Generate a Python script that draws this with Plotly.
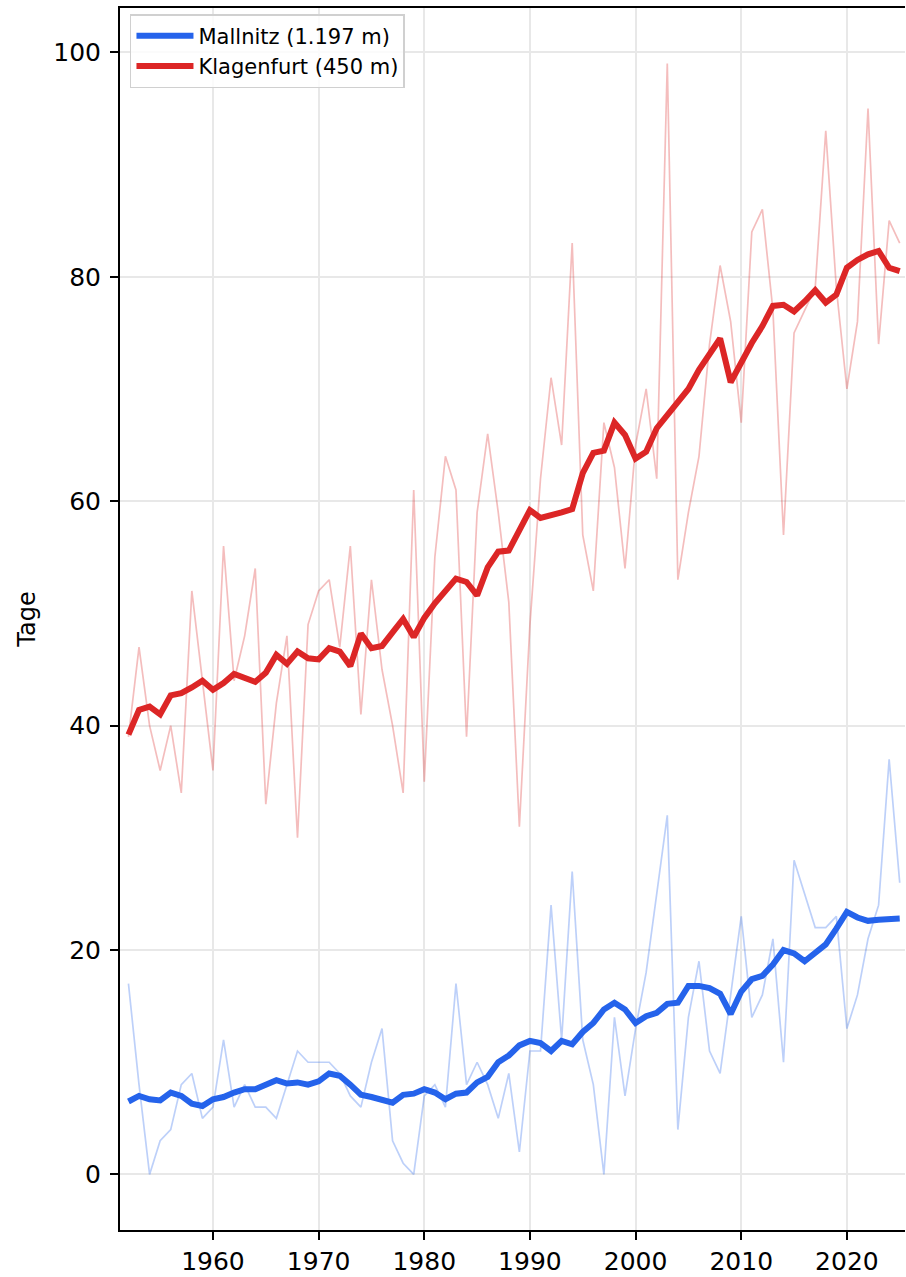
import plotly.graph_objects as go

years = list(range(1952, 2026))

klagenfurt_raw = [39, 47, 40, 36, 40, 34, 52, 44, 36, 56,
                  44, 48, 54, 33, 42, 48, 30, 49, 52, 53,
                  47, 56, 41, 53, 45, 40, 34, 61, 35, 55,
                  64, 61, 39, 59, 66, 59, 51, 31, 49, 62,
                  71, 65, 83, 57, 52, 67, 63, 54, 65, 70,
                  62, 99, 53, 59, 64, 74, 81, 76, 67, 84,
                  86, 77, 57, 75, 77, 79, 93, 79, 70, 76,
                  95, 74, 85, 83]

klagenfurt_smooth = [39.2, 41.4, 41.7, 41.0, 42.7, 42.9, 43.4, 44.0, 43.2, 43.8,
                     44.6, 44.2, 43.9, 44.7, 46.3, 45.5, 46.6, 46.0, 45.9, 46.9,
                     46.6, 45.3, 48.2, 46.9, 47.1, 48.3, 49.5, 47.9, 49.6, 50.9,
                     52.1, 53.1, 52.8, 51.6, 54.1, 55.5, 55.6, 57.5, 59.2, 58.5,
                     58.7, 59.0, 59.3, 62.5, 64.3, 64.5, 67.0, 65.9, 63.8, 64.4,
                     66.5, 67.7, 68.9, 70.0, 71.7, 73.1, 74.5, 70.6, 72.5, 74.1,
                     75.6, 77.4, 77.5, 76.9, 77.8, 78.8, 77.7, 78.4, 80.8, 81.5,
                     82.0, 82.3, 80.8, 80.5]

mallnitz_raw = [17, 8, 0, 3, 4, 8, 9, 5, 6, 12,
                6, 8, 6, 6, 5, 8, 11, 10, 10, 10,
                9, 7, 6, 10, 13, 3, 1, 0, 7, 8,
                6, 17, 8, 10, 8, 5, 9, 2, 11, 11,
                24, 12, 27, 12, 8, 0, 14, 7, 13, 18,
                25, 32, 4, 14, 19, 11, 9, 16, 23, 14,
                16, 21, 10, 28, 25, 22, 22, 23, 13, 16,
                21, 24, 37, 26]

mallnitz_smooth = [6.5, 7.0, 6.7, 6.6, 7.3, 7.0, 6.3, 6.1, 6.7, 6.9,
                   7.3, 7.6, 7.6, 8.0, 8.4, 8.1, 8.2, 8.0, 8.3, 9.0,
                   8.8, 8.0, 7.1, 6.9, 6.7, 6.4, 7.1, 7.2, 7.6, 7.3,
                   6.7, 7.2, 7.3, 8.2, 8.7, 10.0, 10.6, 11.5, 11.9, 11.7,
                   11.0, 11.9, 11.6, 12.7, 13.5, 14.7, 15.3, 14.7, 13.5, 14.1,
                   14.4, 15.2, 15.3, 16.8, 16.8, 16.6, 16.1, 14.3, 16.3, 17.4,
                   17.7, 18.7, 20.0, 19.7, 19.0, 19.8, 20.5, 21.9, 23.4, 22.9,
                   22.6, 22.7, 22.8, 22.8]

x_ticks = [1960, 1970, 1980, 1990, 2000, 2010, 2020]
y_ticks = [0, 20, 40, 60, 80, 100]

BLUE = "#2563eb"
RED = "#dc2626"
BLUE_LIGHT = "rgba(37,99,235,0.30)"
RED_LIGHT = "rgba(220,38,38,0.30)"

fig = go.Figure()
fig.add_trace(go.Scatter(x=years, y=mallnitz_raw, mode="lines",
                         line=dict(color=BLUE_LIGHT, width=1.7), showlegend=False,
                         hoverinfo="skip"))
fig.add_trace(go.Scatter(x=years, y=klagenfurt_raw, mode="lines",
                         line=dict(color=RED_LIGHT, width=1.7), showlegend=False,
                         hoverinfo="skip"))
fig.add_trace(go.Scatter(x=years, y=mallnitz_smooth, mode="lines",
                         name="Mallnitz (1.197 m)", legendgroup="m",
                         line=dict(color=BLUE, width=6)))
fig.add_trace(go.Scatter(x=years, y=klagenfurt_smooth, mode="lines",
                         name="Klagenfurt (450 m)", legendgroup="k",
                         line=dict(color=RED, width=6)))

axis_font = dict(family="DejaVu Sans", size=25, color="black")

fig.update_layout(
    width=906, height=1277,
    margin=dict(l=120, r=1, t=8, b=47),
    paper_bgcolor="white", plot_bgcolor="white",
    font=dict(family="DejaVu Sans", color="black"),
    showlegend=True,
    legend=dict(x=0.0127, y=0.995, xanchor="left", yanchor="top",
                bgcolor="rgba(255,255,255,0.8)", bordercolor="#d0d0d0",
                borderwidth=1.5, font=dict(family="DejaVu Sans", size=21, color="black"),
                tracegroupgap=0, itemwidth=57),
    xaxis=dict(range=[1951.2, 2025.5], tickvals=x_ticks,
               ticktext=[str(v) for v in x_ticks],
               showgrid=True, gridcolor="#e8e8e8", gridwidth=1.5,
               zeroline=False, showline=True, linecolor="black", linewidth=2,
               mirror=True, ticks="outside", ticklen=8, tickwidth=2,
               tickcolor="black", tickfont=axis_font),
    yaxis=dict(range=[-4.95, 103.95], tickvals=y_ticks,
               ticktext=[str(v) for v in y_ticks],
               showgrid=True, gridcolor="#e8e8e8", gridwidth=1.5,
               zeroline=False, showline=True, linecolor="black", linewidth=2,
               ticks="outside", ticklen=8, tickwidth=2, tickcolor="black",
               tickfont=axis_font, ticklabelstandoff=4,
               title=dict(text="Tage", font=dict(family="DejaVu Sans", size=24, color="black"),
                          standoff=11)),
)

fig.write_html("out.html", config={"displayModeBar": False},
               post_script="document.body.style.margin='0';document.body.style.padding='0';")
